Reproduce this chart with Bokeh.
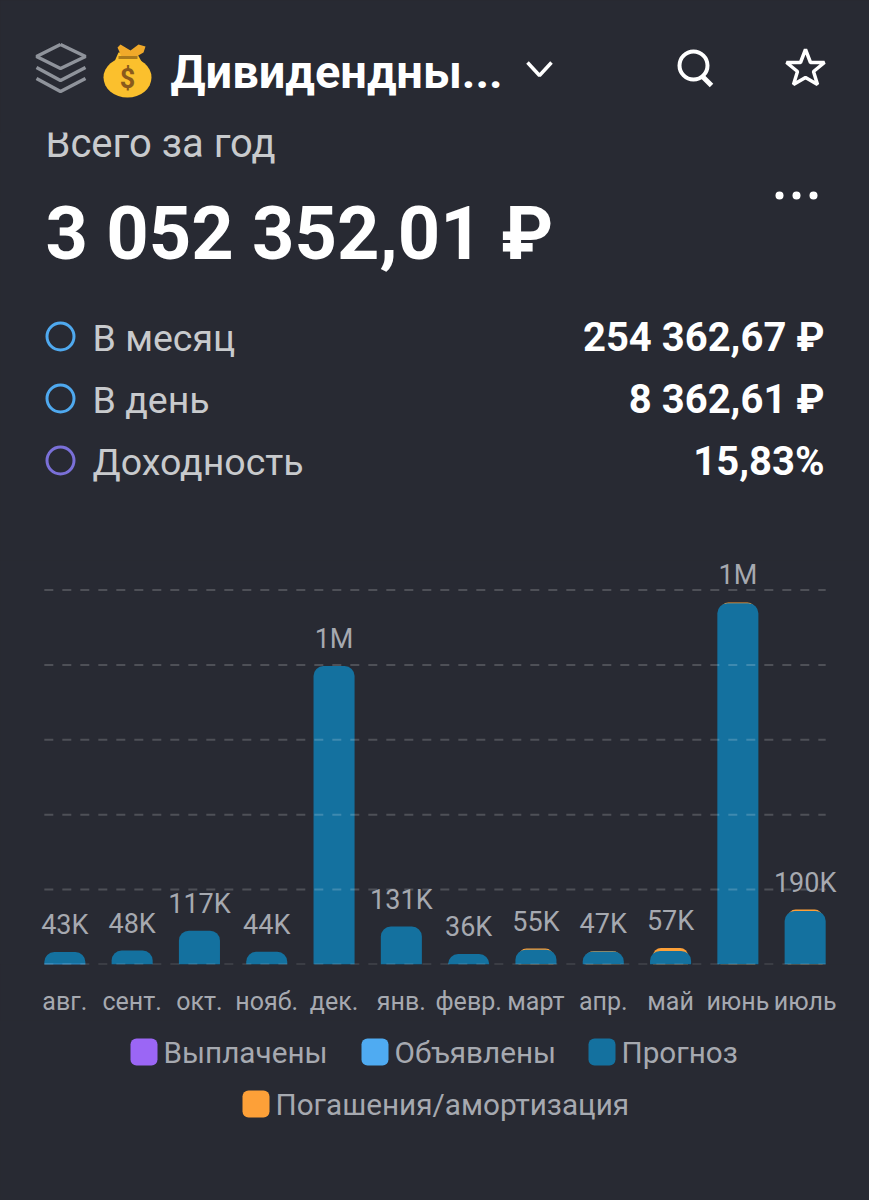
from bokeh.core.properties import value
from bokeh.embed import file_html
from bokeh.layouts import column
from bokeh.models import ColumnDataSource, FactorRange, GlobalInlineStyleSheet, LabelSet, Range1d
from bokeh.plotting import figure
from bokeh.resources import INLINE
from bokeh.transform import dodge

months = ["авг.", "сент.", "окт.", "нояб.", "дек.", "янв.", "февр.", "март", "апр.", "май", "июнь", "июль"]
totals = [43000, 48000, 117000, 44000, 1032000, 131000, 36000, 55000, 47000, 57000, 1252000, 190000]
declared = [3000, 0, 0, 0, 0, 0, 0, 0, 0, 0, 0, 0]
repayments = [0, 0, 0, 0, 0, 0, 0, 4000, 2000, 10000, 3000, 5000]
value_labels = ["43K", "48K", "117K", "44K", "1M", "131K", "36K", "55K", "47K", "57K", "1M", "190K"]
grid_ticks = [0, 259000, 518000, 777000, 1036000, 1295000]

summary_names = ["В месяц", "В день", "Доходность"]
summary_values = ["254 362,67 ₽", "8 362,61 ₽", "15,83%"]
summary_colors = ["#4fa9ef", "#4fa9ef", "#7a70d8"]

legend_names = ["Выплачены", "Объявлены", "Прогноз", "Погашения/амортизация"]
legend_colors = ["#9b66f5", "#4fabf2", "#14719f", "#fda038"]

BG = "#282a33"
GREY = "#a6a9b0"
FONT = "Roboto"
BAR_W = 0.61


def blank(height, y_start, y_end):
    f = figure(width=869, height=height, output_backend="svg", toolbar_location=None,
               x_range=Range1d(0, 869), y_range=Range1d(y_end, y_start),
               x_axis_location=None, y_axis_location=None,
               min_border=0, background_fill_color=BG, border_fill_color=BG, outline_line_color=None)
    f.grid.visible = False
    return f


def put(f, x, y, txt, size, color, bold=False, align="left"):
    f.text([x], [y], text=[txt], text_font=value(FONT), text_font_size=f"{size}px", text_color=color,
           text_font_style="bold" if bold else "normal", text_align=align, text_baseline="middle")


# header
head = blank(560, 0, 560)

put(head, 45, 143, "Всего за год", 40, "#c8cacd")
head.quad(left=[0], right=[869], top=[0], bottom=[132], fill_color=BG, line_color=None)

icon = "#8f939b"
head.line([60, 85, 60, 36, 60], [44, 56, 68, 56, 44], line_color=icon, line_width=3.5)
head.line([36, 60, 85], [67, 80, 67], line_color=icon, line_width=3.5)
head.line([36, 60, 85], [78, 91, 78], line_color=icon, line_width=3.5)

# money bag
head.ellipse([127], [77], width=48, height=40, fill_color="#fbc02d", line_color=None)
head.patch([118, 136, 146, 110], [52, 52, 70, 70], fill_color="#fbc02d", line_color=None)
head.patch([117, 120, 130, 138, 145, 143, 136, 121], [47, 44, 50, 44, 46, 52, 56, 56], fill_color="#f0a92a", line_color=None)
head.line([118, 137], [57, 57], line_color="#a9791c", line_width=3)
put(head, 127, 78, "$", 27, "#8a5a1c", True, "center")

put(head, 170, 71, "Дивидендны...", 47, "white", True)
head.line([527, 539, 551], [62, 75, 62], line_color="white", line_width=3.5)
head.circle([693], [65], radius=14, fill_color=None, line_color="white", line_width=4)
head.line([702, 711], [76, 85], line_color="white", line_width=5)
head.patch([805, 810, 824, 813, 817, 805, 793, 797, 786, 800],
           [49, 62, 62, 71, 84, 77, 84, 71, 62, 62],
           fill_color=None, line_color="white", line_width=3.5)

head.scatter([779, 796, 813], [195, 195, 195], size=8, fill_color="white", line_color=None)
put(head, 45, 233, "3 052 352,01 ₽", 74, "white", True)

row_y = [337, 399, 461]
for name, val, col, y in zip(summary_names, summary_values, summary_colors, row_y):
    head.circle([60], [y - 1], radius=13.5, fill_color=None, line_color=col, line_width=3)
    put(head, 92, y, name, 37.5, "#c8cacd")
    put(head, 824, y, val, 40, "white", True, "right")

# bars
forecast_top = [t - r for t, r in zip(totals, repayments)]
repay_top = [t if r > 0 else 0 for t, r in zip(totals, repayments)]
source = ColumnDataSource(data=dict(month=months, total=totals, forecast=forecast_top, repay=repay_top,
                                    declared=declared, label=value_labels))

x_range = FactorRange(factors=months, range_padding=0.456, range_padding_units="absolute")
chart = figure(width=869, height=460, output_backend="svg", toolbar_location=None,
               x_range=x_range, y_range=Range1d(0, 1397000), y_axis_location=None,
               min_border=0, min_border_bottom=56,
               background_fill_color=BG, border_fill_color=BG, outline_line_color=None)
chart.grid.visible = False

chart.xaxis.axis_line_color = None
chart.xaxis.major_tick_line_color = None
chart.xaxis.minor_tick_line_color = None
chart.xaxis.major_label_text_font = FONT
chart.xaxis.major_label_text_font_size = "25px"
chart.xaxis.major_label_text_color = GREY
chart.xaxis.major_label_standoff = 16

chart.vbar(x="month", top="repay", width=0.52, source=source, fill_color="#fda038", line_color=None,
           border_radius=(8, 8, 0, 0))
chart.vbar(x="month", top="forecast", width=BAR_W, source=source, fill_color="#14719f", line_color=None,
           border_radius=(10, 10, 0, 0))
chart.vbar(x="month", top="declared", width=BAR_W, source=source, fill_color="#4fabf2", line_color=None)

# dashed rules run from the first bar's left edge to the last bar's right edge
grid_source = ColumnDataSource(data=dict(first=[months[0]] * len(grid_ticks), last=[months[-1]] * len(grid_ticks),
                                         tick=grid_ticks))
chart.segment(x0=dodge("first", -BAR_W / 2, range=x_range), x1=dodge("last", BAR_W / 2, range=x_range),
              y0="tick", y1="tick", source=grid_source,
              line_color="white", line_alpha=0.18, line_width=2, line_dash=value([9, 9]))
chart.add_layout(LabelSet(x="month", y="total", text="label", source=source, y_offset=27, text_font=value(FONT),
                          text_font_size="27px", text_color=GREY, text_align="center", text_baseline="middle"))

# legend
foot = blank(180, 1020, 1200)
swatch_x = [130, 361, 588, 242]
swatch_y = [1051, 1051, 1051, 1103]
for name, col, x, y in zip(legend_names, legend_colors, swatch_x, swatch_y):
    foot.quad(left=[x], right=[x + 27], top=[y - 13], bottom=[y + 14], fill_color=col, line_color=None,
              border_radius=6)
    put(foot, x + 33, y + 1, name, 29.7, GREY)

# white page behind the figures shows as thin seams at their edges otherwise
page = column(head, chart, foot, spacing=0,
              stylesheets=[GlobalInlineStyleSheet(css="html, body { background: #282a33; }")])

open("out.html", "w").write(file_html(page, INLINE))
